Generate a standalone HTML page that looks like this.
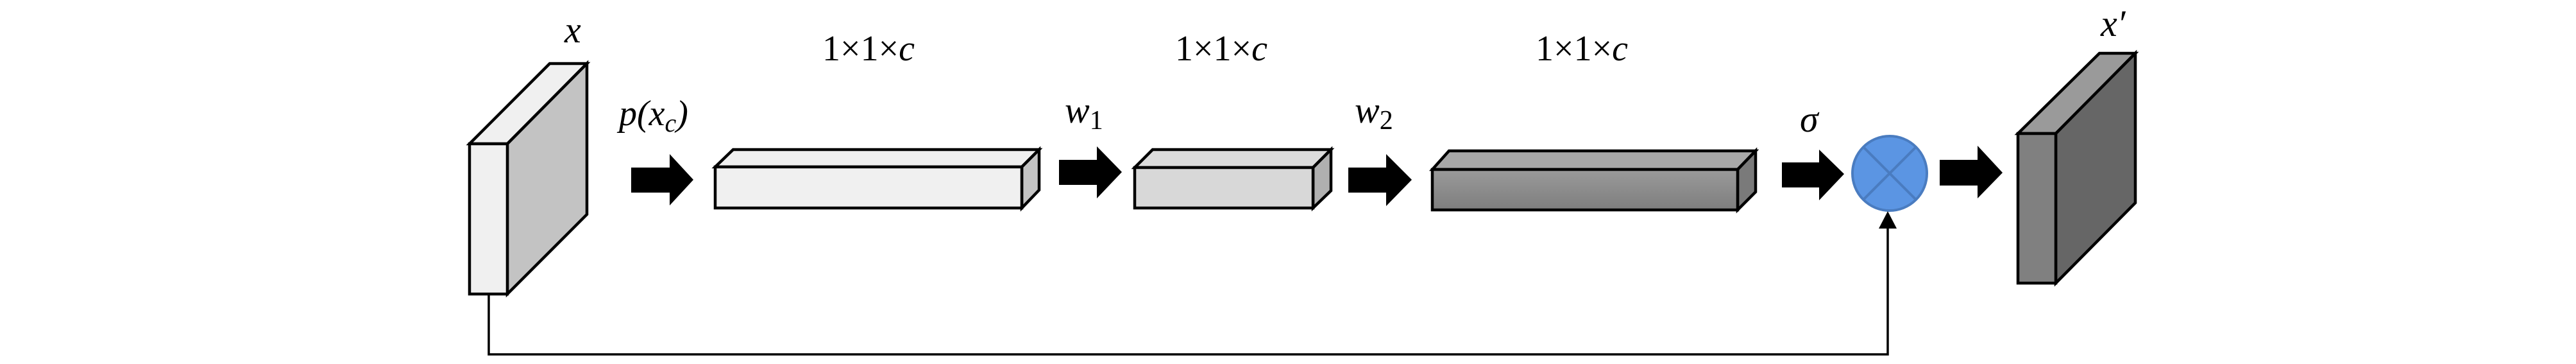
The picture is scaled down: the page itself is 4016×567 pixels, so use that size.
<!DOCTYPE html>
<html><head><meta charset="utf-8"><style>
html,body{margin:0;padding:0;background:#fff;}
svg{display:block;}
svg text{font-family:"Liberation Serif","DejaVu Serif",serif;fill:#000;}
.it{font-style:italic;}
</style></head><body>
<svg width="4016" height="567" viewBox="0 0 4016 567" xmlns="http://www.w3.org/2000/svg" font-family="Liberation Serif, DejaVu Serif, serif">
<defs>
<linearGradient id="g3" x1="0" y1="0" x2="0" y2="1"><stop offset="0" stop-color="#9a9a9a"/><stop offset="1" stop-color="#7e7e7e"/></linearGradient>
</defs>
<g stroke="#000" stroke-width="4.5" stroke-linejoin="miter">
<polygon points="732,224 857,99 915,99 791,224" fill="#f0f0f0"/>
<polygon points="791,224 915,99 915,334 791,458" fill="#c3c3c3"/>
<rect x="732" y="224" width="59" height="234" fill="#f0f0f0"/>
<polygon points="1115,260 1143,233 1620,233 1593,260" fill="#f0f0f0"/>
<polygon points="1593,260 1620,233 1620,296 1593,324" fill="#c3c3c3"/>
<rect x="1115" y="260" width="478" height="64" fill="#f0f0f0"/>
<polygon points="1769,261 1797,233 2075,233 2047,261" fill="#dcdcdc"/>
<polygon points="2047,261 2075,233 2075,297 2047,324" fill="#b0b0b0"/>
<rect x="1769" y="261" width="278" height="63" fill="#d8d8d8"/>
<polygon points="2233,264 2259,235 2737,235 2709,264" fill="#a8a8a8"/>
<polygon points="2709,264 2737,235 2737,299 2709,327" fill="#7a7a7a"/>
<rect x="2233" y="264" width="476" height="63" fill="url(#g3)"/>
<polygon points="3146,208 3273,83 3329,83 3205,208" fill="#9a9a9a"/>
<polygon points="3205,208 3329,83 3329,316 3205,441" fill="#666"/>
<rect x="3146" y="208" width="59" height="233" fill="#808080"/>
</g>
<g fill="#000">
<polygon points="984,261 1044,261 1044,240 1081,280 1044,320 1044,300 984,300"/>
<polygon points="1651,249 1710,249 1710,228 1749,268 1710,309 1710,288 1651,288"/>
<polygon points="2102,261 2161,261 2161,240 2201,280 2161,321 2161,300 2102,300"/>
<polygon points="2778,253 2836,253 2836,233 2875,271 2836,312 2836,292 2778,292"/>
<polygon points="3024,249 3083,249 3083,227 3122,269 3083,309 3083,289 3024,289"/>
</g>
<circle cx="2946" cy="270" r="58" fill="#5b95e3" stroke="#4a7cc0" stroke-width="4"/>
<line x1="2905" y1="229" x2="2987" y2="311" stroke="#4a7cc0" stroke-width="4"/>
<line x1="2987" y1="229" x2="2905" y2="311" stroke="#4a7cc0" stroke-width="4"/>
<polyline points="762,458 762,552 2943,552 2943,350" fill="none" stroke="#000" stroke-width="3.5"/>
<polygon points="2929,356 2943,329 2957,356" fill="#000"/>
<text x="880" y="66" font-size="58" class="it">x</text>
<text x="3275" y="56" font-size="58" class="it">x′</text>
<text x="965" y="195" font-size="56" class="it">p(x<tspan font-size="40" dy="10">c</tspan><tspan dy="-10">)</tspan></text>
<text x="1660" y="191" font-size="58" class="it">w<tspan font-size="42" dy="10" font-style="normal">1</tspan></text>
<text x="2112" y="191" font-size="58" class="it">w<tspan font-size="42" dy="10" font-style="normal">2</tspan></text>
<text x="2806" y="205" font-size="58" class="it">σ</text>
<text x="1282" y="94" font-size="56">1×1×<tspan class="it">c</tspan></text>
<text x="1832" y="94" font-size="56">1×1×<tspan class="it">c</tspan></text>
<text x="2394" y="94" font-size="56">1×1×<tspan class="it">c</tspan></text>
</svg>
</body></html>
